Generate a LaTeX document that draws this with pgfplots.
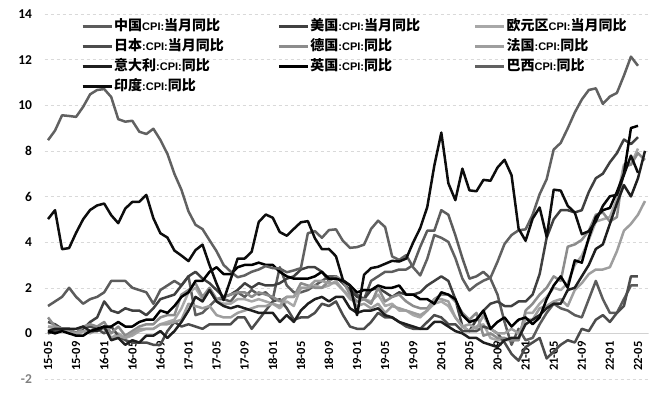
\documentclass[border=0pt]{standalone}
\usepackage{fontspec}
\setmainfont{Carlito}
\newfontfamily\cjk{Noto Sans CJK SC}
\newfontfamily\latf{Liberation Sans}
\usepackage{pgfplots}
\pgfplotsset{compat=1.18}
\usepackage{pgfplotstable}
\usetikzlibrary{calc}

\definecolor{cCN}{gray}{0.36}
\definecolor{cUS}{gray}{0.25}
\definecolor{cEZ}{gray}{0.66}
\definecolor{cJP}{gray}{0.30}
\definecolor{cDE}{gray}{0.55}
\definecolor{cFR}{gray}{0.62}
\definecolor{cIT}{gray}{0.12}
\definecolor{cUK}{gray}{0.0}
\definecolor{cBR}{gray}{0.38}
\definecolor{cIN}{gray}{0.05}

\newcommand\lat[1]{{\latf\bfseries\fontsize{11pt}{11pt}\selectfont #1}}

\pgfplotstableread{
idx cn us ez jp de fr it uk br ind
0 1.2 0.0 0.3 0.5 0.7 0.3 0.1 0.1 8.47 5.01
1 1.4 0.1 0.2 0.4 0.3 0.3 0.2 0.0 8.89 5.40
2 1.6 0.2 0.2 0.2 0.2 0.2 0.2 0.1 9.56 3.69
3 2.0 0.2 0.1 0.2 0.2 0.0 0.2 0.0 9.53 3.74
4 1.6 0.0 -0.1 0.0 0.0 0.0 0.2 -0.1 9.49 4.41
5 1.3 0.2 0.1 0.3 0.3 0.1 0.3 -0.1 9.93 5.00
6 1.5 0.5 0.1 0.3 0.4 0.0 0.1 0.1 10.48 5.41
7 1.6 0.7 0.2 0.2 0.3 0.2 0.1 0.2 10.67 5.61
8 1.8 1.4 0.3 0.0 0.5 0.2 0.3 0.3 10.71 5.69
9 2.3 1.0 -0.2 0.3 0.0 -0.2 -0.3 0.3 10.36 5.18
10 2.3 0.9 0.0 -0.1 0.3 -0.1 -0.2 0.5 9.39 4.83
11 2.3 1.1 -0.2 -0.3 -0.1 -0.2 -0.5 0.3 9.28 5.47
12 2.0 1.0 -0.1 -0.4 0.1 0.0 -0.3 0.3 9.32 5.76
13 1.9 1.0 0.1 -0.4 0.3 0.2 -0.4 0.5 8.84 5.77
14 1.8 0.8 0.2 -0.4 0.4 0.2 -0.1 0.6 8.74 6.07
15 1.3 1.1 0.2 -0.5 0.4 0.2 -0.1 0.6 8.97 5.05
16 1.9 1.5 0.4 -0.5 0.7 0.4 0.1 1.0 8.48 4.39
17 2.1 1.6 0.5 0.1 0.8 0.4 -0.2 0.9 7.87 4.20
18 2.3 1.7 0.6 0.5 0.8 0.5 0.1 1.2 6.99 3.63
19 2.1 2.1 1.1 0.3 1.7 0.6 0.5 1.6 6.29 3.41
20 2.5 2.5 1.8 0.4 1.9 1.3 1.0 1.8 5.35 3.17
21 0.8 2.7 2.0 0.3 2.2 1.2 1.6 2.3 4.76 3.65
22 0.9 2.4 1.5 0.2 1.6 1.1 1.4 2.3 4.57 3.89
23 1.2 2.2 1.9 0.4 2.0 1.2 1.9 2.7 4.08 2.99
24 1.5 1.9 1.4 0.4 1.5 0.8 1.4 2.9 3.60 2.18
25 1.5 1.6 1.3 0.4 1.6 0.7 1.2 2.6 3.00 1.46
26 1.4 1.7 1.3 0.4 1.7 0.7 1.1 2.6 2.71 2.36
27 1.8 1.9 1.5 0.7 1.8 0.9 1.2 2.9 2.46 3.28
28 1.6 2.2 1.5 0.7 1.8 1.0 1.1 3.0 2.54 3.28
29 1.9 2.0 1.4 0.2 1.6 1.1 1.0 3.0 2.70 3.58
30 1.7 2.2 1.5 0.6 1.8 1.2 0.9 3.1 2.80 4.88
31 1.8 2.1 1.4 1.0 1.7 1.2 0.9 3.0 2.95 5.21
32 1.5 2.1 1.3 1.4 1.6 1.3 0.9 3.0 2.86 5.07
33 2.9 2.2 1.1 1.5 1.4 1.2 0.5 2.7 2.84 4.44
34 2.1 2.4 1.4 1.1 1.6 1.6 0.8 2.5 2.68 4.28
35 1.8 2.5 1.2 0.6 1.6 1.6 0.5 2.4 2.76 4.58
36 1.8 2.8 2.0 0.7 2.2 2.0 1.0 2.4 2.86 4.87
37 1.9 2.9 2.0 0.7 2.1 2.0 1.3 2.4 4.39 4.92
38 2.1 2.9 2.1 0.9 2.0 2.3 1.5 2.5 4.48 4.17
39 2.3 2.7 2.0 1.3 2.0 2.3 1.6 2.7 4.19 3.69
40 2.5 2.3 2.1 1.2 2.3 2.2 1.4 2.4 4.53 3.70
41 2.5 2.5 2.3 1.4 2.5 2.2 1.6 2.4 4.56 3.38
42 2.2 2.2 1.9 0.8 2.3 1.9 1.6 2.3 4.05 2.33
43 1.9 1.9 1.5 0.3 1.7 1.6 1.1 2.1 3.75 2.11
44 1.7 1.6 1.4 0.2 1.4 1.2 0.9 1.8 3.78 0.80
45 1.5 1.5 1.5 0.2 1.5 1.3 1.0 1.9 3.89 2.57
46 2.3 1.9 1.4 0.5 1.3 1.1 1.0 1.9 4.58 2.86
47 2.5 2.0 1.7 0.9 2.0 1.3 1.1 2.1 4.94 2.92
48 2.7 1.8 1.2 0.7 1.4 0.9 0.8 2.0 4.66 3.05
49 2.7 1.6 1.3 0.7 1.6 1.2 0.7 2.0 3.37 3.18
50 2.8 1.8 1.0 0.5 1.7 1.1 0.5 2.1 3.22 3.15
51 2.8 1.7 1.0 0.3 1.4 1.0 0.4 1.7 3.43 3.28
52 3.0 1.7 0.8 0.2 1.2 0.9 0.3 1.7 2.89 3.99
53 3.8 1.8 0.7 0.2 1.1 0.8 0.2 1.5 2.54 4.62
54 4.5 2.1 1.0 0.5 1.1 1.0 0.2 1.5 3.27 5.54
55 4.5 2.3 1.3 0.8 1.5 1.5 0.5 1.3 4.31 7.35
56 5.4 2.5 1.4 0.7 1.7 1.5 0.5 1.8 4.19 8.80
57 5.2 2.3 1.2 0.4 1.7 1.4 0.3 1.7 4.01 6.58
58 4.3 1.5 0.7 0.4 1.4 0.7 0.1 1.5 3.30 5.84
59 3.3 0.3 0.3 0.1 0.9 0.3 0.0 0.8 2.40 7.22
60 2.4 0.1 0.1 0.1 0.6 0.4 -0.2 0.5 1.88 6.27
61 2.5 0.6 0.3 0.1 0.9 0.2 -0.2 0.6 2.13 6.23
62 2.7 1.0 0.4 0.3 -0.1 0.8 -0.4 1.0 2.31 6.73
63 2.4 1.3 -0.2 0.2 0.0 0.2 -0.5 0.2 2.44 6.69
64 1.7 1.4 -0.3 0.0 -0.2 0.0 -0.6 0.5 3.14 7.27
65 0.5 1.2 -0.3 -0.4 -0.2 0.0 -0.3 0.7 3.92 7.61
66 -0.5 1.2 -0.3 -0.9 -0.3 0.2 -0.2 0.3 4.31 6.93
67 0.2 1.4 -0.3 -1.2 -0.3 0.0 -0.2 0.6 4.52 4.59
68 -0.3 1.4 0.9 -0.6 1.0 0.6 0.4 0.7 4.56 4.06
69 -0.2 1.7 0.9 -0.4 1.3 0.6 0.6 0.4 5.20 5.03
70 0.4 2.6 1.3 -0.2 1.7 1.1 0.8 0.7 6.10 5.52
71 0.9 4.2 1.6 -1.1 2.0 1.2 1.1 1.5 6.76 4.23
72 1.3 5.0 2.0 -0.8 2.5 1.4 1.3 2.1 8.06 6.30
73 1.1 5.4 1.9 -0.5 2.3 1.5 1.3 2.5 8.35 6.26
74 1.0 5.4 2.2 -0.3 3.8 1.2 1.9 2.0 8.99 5.59
75 0.8 5.3 3.0 -0.4 3.9 1.9 2.0 3.2 9.68 5.30
76 0.7 5.4 3.4 0.2 4.1 2.2 2.5 3.1 10.25 4.35
77 1.5 6.2 4.1 0.1 4.5 2.6 3.0 4.2 10.67 4.48
78 2.3 6.8 4.9 0.6 5.2 2.8 3.7 5.1 10.74 4.91
79 1.5 7.0 5.0 0.8 5.3 2.8 3.9 5.4 10.06 5.59
80 0.9 7.5 5.1 0.5 4.9 2.9 4.8 5.5 10.38 6.01
81 0.9 7.9 5.9 0.9 5.1 3.6 5.7 6.2 10.54 6.07
82 1.5 8.5 7.4 1.2 7.3 4.5 6.5 7.0 11.30 6.95
83 2.1 8.3 7.4 2.5 7.4 4.8 6.0 9.0 12.13 7.79
84 2.1 8.6 8.1 2.5 7.9 5.2 6.8 9.1 11.73 7.04
85 nan nan nan nan 7.6 5.8 8.0 nan nan nan
}\data

\begin{document}
\begin{tikzpicture}
\begin{axis}[
  scale only axis, width=604pt, height=365pt,
  xmin=-0.5, xmax=85.5, ymin=-2, ymax=14,
  axis line style={draw=none},
  tick style={draw=none},
  xtick={0,4,...,84},
  xticklabels={15-05,15-09,16-01,16-05,16-09,17-01,17-05,17-09,18-01,18-05,18-09,19-01,19-05,19-09,20-01,20-05,20-09,21-01,21-05,21-09,22-01,22-05},
  xticklabel style={yshift=41pt, rotate=90, anchor=east, font=\bfseries\fontsize{12.5}{12.5}\selectfont},
  ytick={-2,0,2,4,6,8,10,12,14},
  yticklabels={\textcolor{gray}{-2},0,2,4,6,8,10,12,14},
  yticklabel style={font=\bfseries\fontsize{13.5}{13.5}\selectfont, xshift=-9pt},
  ymajorgrids, major grid style={gray!30, dash pattern=on 3pt off 3pt},
  /pgf/number format/assume math mode=true,
  unbounded coords=jump,
  every axis plot/.append style={line width=2.5pt, line join=round, no markers},
  legend columns=3,
  legend cell align=left,
  legend style={at={(rel axis cs:0.056,0.995)}, anchor=north west, draw=none, fill=none,
    font=\cjk\bfseries\fontsize{14}{14}\selectfont, row sep=3pt,
    nodes={inner sep=1.5pt, text height=11pt, text depth=3pt}},
  legend image code/.code={\draw[#1, line width=2.2pt] (0pt,0pt) -- (29pt,0pt);},
]
\coordinate (ll) at (rel axis cs:0,0);
\coordinate (ur) at (rel axis cs:1,1);
\draw[gray!35, line width=0.8pt] (axis cs:-0.5,0) -- (axis cs:85.5,0);
\addplot[cCN] table[x=idx, y=cn] {\data};
\addlegendentry{\makebox[162pt][l]{中国\lat{CPI:}当月同比}}
\addplot[cUS] table[x=idx, y=us] {\data};
\addlegendentry{\makebox[162pt][l]{美国\lat{:CPI:}当月同比}}
\addplot[cEZ] table[x=idx, y=ez] {\data};
\addlegendentry{欧元区\lat{CPI:}当月同比}
\addplot[cJP] table[x=idx, y=jp] {\data};
\addlegendentry{\makebox[162pt][l]{日本\lat{:CPI:}当月同比}}
\addplot[cDE] table[x=idx, y=de] {\data};
\addlegendentry{\makebox[162pt][l]{德国\lat{:CPI:}同比}}
\addplot[cFR] table[x=idx, y=fr] {\data};
\addlegendentry{法国\lat{:CPI:}同比}
\addplot[cIT] table[x=idx, y=it] {\data};
\addlegendentry{\makebox[162pt][l]{意大利\lat{:CPI:}同比}}
\addplot[cUK] table[x=idx, y=uk] {\data};
\addlegendentry{\makebox[162pt][l]{英国\lat{:CPI:}同比}}
\addplot[cBR] table[x=idx, y=br] {\data};
\addlegendentry{巴西\lat{CPI:}同比}
\addplot[cIN] table[x=idx, y=ind] {\data};
\addlegendentry{\makebox[162pt][l]{印度\lat{:CPI:}同比}}
\end{axis}
\path ($(ll)+(-44.5pt,-15pt)$) rectangle ($(ur)+(9.5pt,14pt)$);
\end{tikzpicture}
\end{document}
